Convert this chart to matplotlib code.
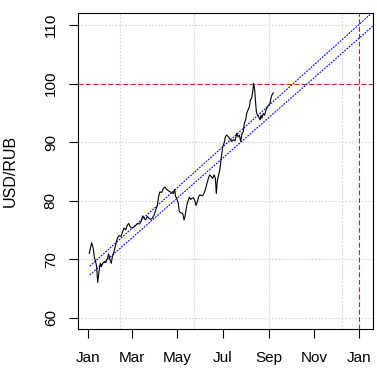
import numpy as np
import pandas as pd
import matplotlib
matplotlib.use("Agg")
import matplotlib.pyplot as plt
import matplotlib.dates as mdates

plt.rcParams['font.family'] = ['Liberation Sans', 'DejaVu Sans']

base = pd.Timestamp("2023-01-01")

# USD/RUB rate, days counted from 1 Jan 2023
rate_days = [1.3, 4.5, 6.7, 8.1, 10.3, 11.2, 12.6, 14.4, 16.2, 17.5, 19.3, 21.6, 23.4, 25.6,
             27.4, 29.2, 31.0, 32.3, 34.6, 36.8, 39.1, 41.3, 44.0, 46.3, 48.0, 50.3, 52.5,
             54.3, 56.6, 59.3, 61.5, 64.2, 66.5, 68.7, 70.9, 73.2, 75.0, 77.2, 79.5, 81.7,
             84.0, 86.2, 88.5, 90.7, 93.0, 94.7, 96.5, 98.8, 101.0, 103.3, 105.5, 107.8,
             110.0, 112.3, 114.5, 116.3, 117.6, 119.0, 121.2, 122.6, 124.8, 127.1, 128.9,
             130.2, 131.6, 132.9, 134.7, 136.1, 137.9, 139.7, 141.4, 143.2, 145.0, 146.8,
             148.6, 150.4, 152.7, 154.9, 157.2, 159.4, 161.7, 163.4, 165.7, 167.5, 169.3,
             171.1, 172.4, 173.8, 175.6, 177.4, 179.2, 181.0, 182.8, 184.6, 186.3, 188.6,
             190.8, 193.1, 195.3, 197.6, 199.8, 201.6, 203.4, 205.2, 207.0, 208.8, 210.1,
             211.9, 213.3, 215.1, 216.9, 218.2, 220.0, 221.4, 222.7, 224.1, 225.0, 226.3,
             227.7, 229.5, 231.3, 232.6, 233.9, 235.7, 237.5, 239.3, 241.1, 242.9, 244.7,
             246.5, 248.3, 249.2]
rate = [71.0, 72.8, 71.8, 70.4, 69.3, 68.7, 66.0, 67.9, 69.3, 68.7, 69.3, 69.6, 69.4, 70.1,
        70.9, 69.9, 69.3, 70.4, 71.3, 72.4, 73.6, 74.0, 73.9, 74.7, 75.3, 75.0, 75.8,
        76.1, 75.5, 75.3, 75.5, 75.8, 76.1, 76.0, 76.4, 77.4, 77.0, 76.7, 77.3, 77.0,
        76.8, 77.0, 77.5, 78.4, 79.2, 80.7, 81.5, 81.4, 82.1, 82.3, 81.9, 81.7,
        81.5, 81.4, 81.2, 81.9, 80.7, 80.4, 79.5, 78.1, 77.9, 77.8, 76.7,
        77.3, 78.4, 79.4, 80.1, 80.6, 80.2, 80.4, 80.5, 80.1, 79.2, 79.8,
        80.7, 81.0, 80.8, 81.0, 81.7, 82.7, 83.8, 84.4, 84.1, 83.8, 84.4,
        83.8, 81.2, 83.5, 84.4, 85.5, 87.5, 89.2, 89.8, 90.9, 91.2, 90.9,
        90.5, 90.1, 90.4, 90.2, 91.5, 90.9, 91.2, 90.1, 91.5, 91.8, 93.2,
        93.8, 94.9, 95.5, 96.0, 97.2, 97.5, 98.6, 100.0, 98.9, 97.2, 95.2,
        94.6, 94.3, 93.8, 94.6, 94.1, 94.9, 94.6, 95.5, 96.0, 96.3, 96.6,
        97.8, 98.3, 98.4]

# trend lines (upper / lower)
trend_days = [2, 384]
trend_upper = [68.8, 112.3]
trend_lower = [67.3, 109.9]

grid_days = [42, 142, 243, 342]
y_ticks = [60, 70, 80, 90, 100, 110]
x_tick_dates = ["2023-01-01", "2023-03-01", "2023-05-01", "2023-07-01",
                "2023-09-01", "2023-11-01", "2024-01-01"]
level = 100
horizon = "2024-01-01"


def to_dates(days):
    return base + pd.to_timedelta(np.array(days), unit="D")


fig = plt.figure(figsize=(3.77, 3.70), dpi=100)
ax = fig.add_axes([78 / 377, 1 - 329 / 370, 295 / 377, 316 / 370])

grid_col = "#d3d3d3"
for d in to_dates(grid_days):
    ax.axvline(d, color=grid_col, lw=0.8, ls=(0, (1.5, 1.5)), zorder=0)
for v in y_ticks:
    ax.axhline(v, color=grid_col, lw=0.8, ls=(0, (1.5, 1.5)), zorder=0)

red = "#b8301e"
ax.axhline(level, color=red, lw=0.8, ls=(0, (4.5, 2.2)), zorder=1)
ax.axvline(pd.Timestamp(horizon), color=red, lw=0.8, ls=(0, (4.5, 2.2)), zorder=1)

ax.plot(to_dates(trend_days), trend_upper, color="blue", lw=0.8, ls=(0, (1.6, 1.1)), zorder=2)
ax.plot(to_dates(trend_days), trend_lower, color="blue", lw=0.8, ls=(0, (1.6, 1.1)), zorder=2)

ax.plot(to_dates(rate_days), rate, color="black", lw=0.8, zorder=3)

ax.set_xlim(base - pd.Timedelta(days=13.9), base + pd.Timedelta(days=383.4))
ax.set_ylim(58.07, 112.05)

ax.set_yticks(y_ticks)
ax.set_yticklabels([str(v) for v in y_ticks], rotation=90, va="center")
ax.set_xticks([pd.Timestamp(d) for d in x_tick_dates])
ax.xaxis.set_major_formatter(mdates.DateFormatter("%b"))

ax.tick_params(axis="both", direction="out", length=6.5, width=0.8, labelsize=11,
               colors="black", pad=9)
ax.tick_params(axis="y", pad=8)
for s in ax.spines.values():
    s.set_linewidth(0.8)

ax.set_ylabel("USD/RUB", fontsize=11.5)
ax.yaxis.set_label_coords(-60 / 295, 0.5)

fig.savefig("out.png", dpi=100)
